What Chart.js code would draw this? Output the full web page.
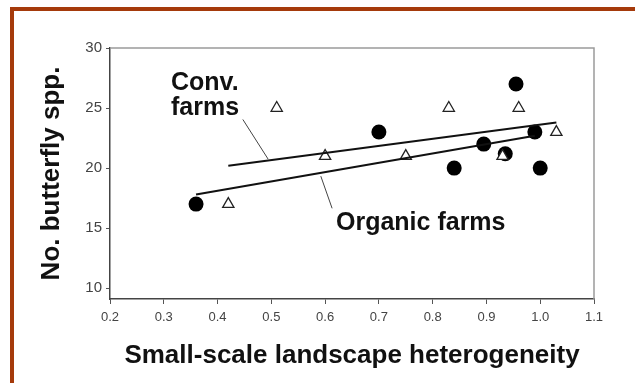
<!DOCTYPE html>
<html>
<head>
<meta charset="utf-8">
<script src="https://cdn.jsdelivr.net/npm/chart.js@4/dist/chart.umd.min.js"></script>
<style>
    html, body { margin: 0; padding: 0; background: #fff; }
    #wrap { position: relative; width: 635px; height: 383px; overflow: hidden; }
    #frame {
        position: absolute; left: 10px; top: 7px; right: -10px; bottom: -10px;
        border-left: 4px solid #a53a0b; border-top: 4px solid #a53a0b;
    }
    canvas { position: absolute; left: 0; top: 0; }
</style>
</head>
<body>
<div id="wrap">
    <div id="frame"></div>
    <canvas id="chart" width="635" height="383"></canvas>
</div>
<script>
// datos
const organicX = [0.36, 0.70, 0.84, 0.895, 0.935, 0.955, 0.99, 1.00];
const organicY = [17, 23, 20, 22, 21.2, 27, 23, 20];
const convX = [0.42, 0.51, 0.60, 0.75, 0.83, 0.93, 0.96, 1.03];
const convY = [17, 25, 21, 21, 25, 21, 25, 23];

// rectas de regresion (extremos)
const organicFitX = [0.36, 0.99];
const organicFitY = [17.8, 22.7];
const convFitX = [0.42, 1.03];
const convFitY = [20.2, 23.8];

// lineas guia de las etiquetas
const convLeaderX = [0.447, 0.494];
const convLeaderY = [24.05, 20.75];
const organicLeaderX = [0.592, 0.613];
const organicLeaderY = [19.33, 16.65];

const xTicks = [0.2, 0.3, 0.4, 0.5, 0.6, 0.7, 0.8, 0.9, 1.0, 1.1];
const yTicks = [10, 15, 20, 25, 30];

const toPoints = (xs, ys) => xs.map((x, i) => ({ x: x, y: ys[i] }));

const boldFont = '"Liberation Sans", Arial, sans-serif';
const tickFont = '"Liberation Sans Narrow", "Liberation Sans", Arial, sans-serif';

// marco gris del area, lineas guia y textos
const decor = {
    id: 'decor',
    beforeDatasetsDraw(chart) {
        const { ctx, chartArea: a } = chart;
        ctx.save();
        ctx.strokeStyle = '#9a9a9a';
        ctx.lineWidth = 1.5;
        ctx.beginPath();
        ctx.moveTo(a.left, a.top);
        ctx.lineTo(a.right, a.top);
        ctx.lineTo(a.right, a.bottom);
        ctx.stroke();
        ctx.restore();
    },
    afterDatasetsDraw(chart) {
        const { ctx, scales: { x, y } } = chart;
        ctx.save();
        ctx.strokeStyle = '#444';
        ctx.lineWidth = 1;
        [[convLeaderX, convLeaderY], [organicLeaderX, organicLeaderY]].forEach(([lx, ly]) => {
            ctx.beginPath();
            ctx.moveTo(x.getPixelForValue(lx[0]), y.getPixelForValue(ly[0]));
            ctx.lineTo(x.getPixelForValue(lx[1]), y.getPixelForValue(ly[1]));
            ctx.stroke();
        });

        ctx.fillStyle = '#111';
        ctx.font = 'bold 25px ' + boldFont;
        ctx.textAlign = 'left';
        ctx.textBaseline = 'alphabetic';
        ctx.fillText('Conv.', 171, 90);
        ctx.fillText('farms', 171, 115);
        ctx.fillText('Organic farms', 336, 230);
        ctx.restore();
    }
};

new Chart(document.getElementById('chart'), {
    type: 'scatter',
    data: {
        datasets: [
            {
                label: 'Conv. fit',
                data: toPoints(convFitX, convFitY),
                showLine: true,
                borderColor: '#111',
                borderWidth: 2,
                pointRadius: 0
            },
            {
                label: 'Organic fit',
                data: toPoints(organicFitX, organicFitY),
                showLine: true,
                borderColor: '#111',
                borderWidth: 2,
                pointRadius: 0
            },
            {
                // triangulos por encima de los circulos
                label: 'Conv. farms',
                data: toPoints(convX, convY),
                pointStyle: 'triangle',
                pointRadius: 6.5,
                backgroundColor: '#fff',
                borderColor: '#222',
                borderWidth: 1.3
            },
            {
                label: 'Organic farms',
                data: toPoints(organicX, organicY),
                pointStyle: 'circle',
                pointRadius: 7.5,
                backgroundColor: '#000',
                borderColor: '#000',
                borderWidth: 0
            }
        ]
    },
    options: {
        responsive: false,
        animation: false,
        layout: { padding: { left: 0, top: 48, right: 41, bottom: 0 } },
        plugins: {
            legend: { display: false },
            tooltip: { enabled: false }
        },
        scales: {
            x: {
                type: 'linear',
                min: 0.2,
                max: 1.1,
                afterFit: s => { s.height = 84; },
                afterBuildTicks: s => { s.ticks = xTicks.map(v => ({ value: v })); },
                grid: { drawOnChartArea: false, tickLength: 5, color: '#555' },
                border: { color: '#444', width: 1.5 },
                ticks: {
                    color: '#444',
                    font: { family: tickFont, size: 13 },
                    padding: 6,
                    callback: v => v.toFixed(1)
                },
                title: {
                    display: true,
                    text: 'Small-scale landscape heterogeneity',
                    color: '#111',
                    font: { family: boldFont, size: 26, weight: 'bold' },
                    padding: { top: 0, bottom: 12 }
                }
            },
            y: {
                type: 'linear',
                min: 9.1,
                max: 30,
                afterFit: s => { s.width = 110; },
                afterBuildTicks: s => { s.ticks = yTicks.map(v => ({ value: v })); },
                grid: { drawOnChartArea: false, tickLength: 4, color: '#555' },
                border: { color: '#444', width: 1.5 },
                ticks: {
                    color: '#444',
                    font: { family: tickFont, size: 15 },
                    padding: 4
                },
                title: {
                    display: true,
                    text: 'No. butterfly spp.',
                    color: '#111',
                    font: { family: boldFont, size: 26, weight: 'bold' },
                    padding: { top: 36, bottom: 0 }
                }
            }
        }
    },
    plugins: [decor]
});
</script>
</body>
</html>
